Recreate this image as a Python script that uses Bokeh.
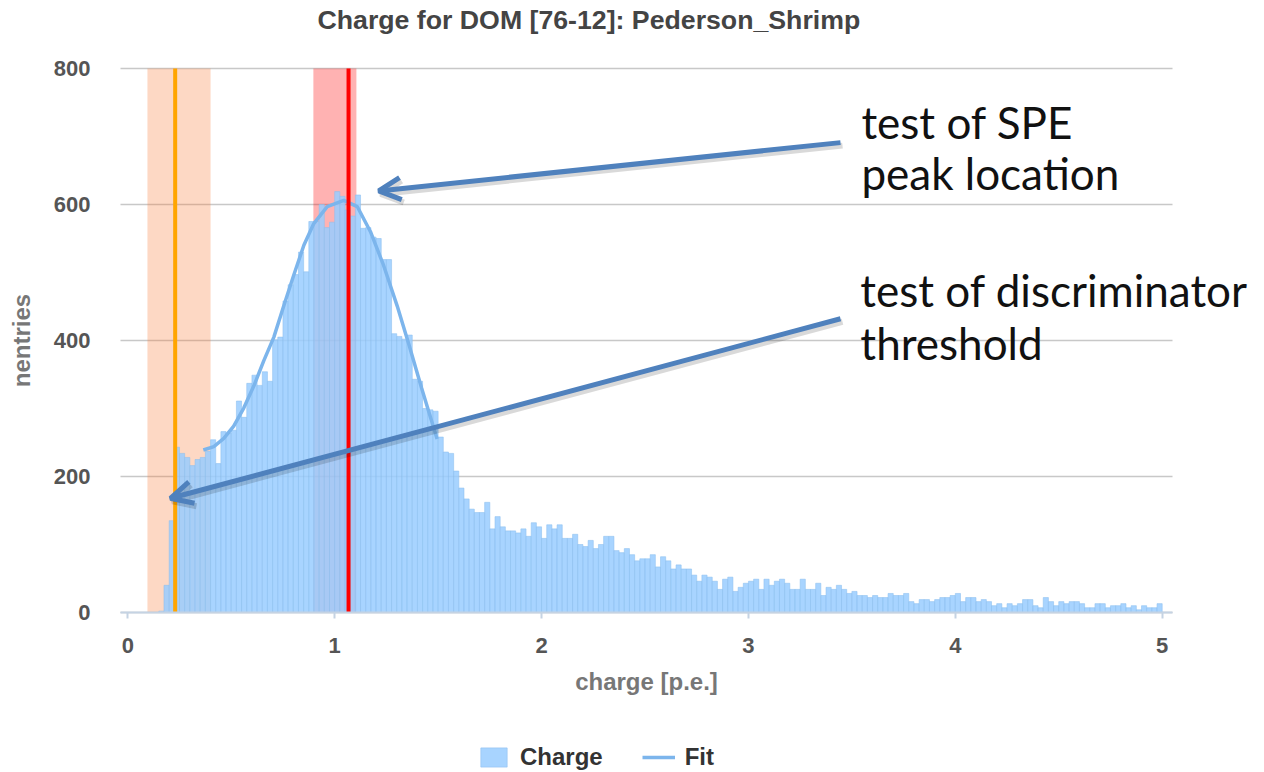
from bokeh.plotting import figure
from bokeh.models import (Range1d, FixedTicker, Legend, LegendItem, Arrow, OpenHead,
                          Label)
from bokeh.embed import file_html
from bokeh.resources import INLINE

# ---------------- data ----------------
BIN_WIDTH = 0.025
CHARGE_COUNTS = [
    0, 0, 0, 0, 0, 0, 2, 40, 135, 243,
    234, 228, 216, 225, 228, 237, 254, 219, 266, 264,
    268, 311, 287, 337, 349, 334, 354, 340, 401, 405,
    458, 482, 497, 530, 501, 575, 575, 600, 566, 574,
    619, 612, 592, 583, 614, 565, 566, 552, 550, 519,
    519, 410, 406, 402, 408, 343, 340, 300, 298, 296,
    258, 236, 234, 208, 183, 167, 152, 147, 147, 162,
    123, 141, 126, 120, 120, 117, 123, 112, 132, 126,
    109, 129, 123, 129, 109, 109, 115, 100, 97, 106,
    94, 100, 112, 112, 91, 88, 94, 85, 76, 79,
    79, 85, 67, 82, 76, 64, 70, 64, 64, 55,
    46, 55, 52, 46, 34, 49, 52, 31, 37, 43,
    46, 49, 34, 49, 40, 46, 49, 43, 34, 34,
    49, 34, 34, 43, 25, 37, 34, 40, 34, 28,
    31, 25, 25, 22, 25, 22, 22, 28, 25, 25,
    28, 16, 13, 19, 19, 16, 19, 22, 22, 25,
    28, 16, 22, 22, 16, 19, 16, 10, 13, 7,
    13, 10, 13, 19, 19, 10, 7, 22, 16, 10,
    16, 13, 16, 16, 13, 7, 7, 13, 13, 7,
    10, 10, 13, 7, 10, 4, 10, 7, 7, 13,
]
FIT_X = [0.365, 0.416, 0.464, 0.512, 0.561, 0.609, 0.657, 0.706, 0.754, 0.802,
         0.851, 0.899, 0.964, 1.044, 1.109, 1.173, 1.237, 1.302, 1.358, 1.420, 1.495]
FIT_Y = [239, 244, 256, 274, 301, 333, 370, 405, 451, 496,
         540, 572, 597, 606, 597, 560, 510, 451, 395, 330, 255]

THRESHOLD = 0.229
THRESHOLD_BAND = (0.095, 0.400)
SPE_PEAK = 1.067
SPE_BAND = (0.897, 1.105)

X_TICKS = [0, 1, 2, 3, 4, 5]
Y_TICKS = [0, 200, 400, 600, 800]
Y_MAX = 800
X_START = -0.0353      # left end of axis / grid
X_AXIS_END = 5.0498    # right end of axis / grid

TITLE = "Charge for DOM [76-12]: Pederson_Shrimp"
X_LABEL = "charge [p.e.]"
Y_LABEL = "nentries"

# annotation arrows: (x_start, y_start, x_end, y_end) in data units
ARROW_SPE = (3.445, 691, 1.213, 620)
ARROW_DISC = (3.445, 432, 0.206, 168)
NOTE_SPE = [("test of SPE", 3.546, 721), ("peak location", 3.546, 647)]
NOTE_DISC = [("test of discriminator", 3.541, 475), ("threshold", 3.541, 397)]

# ---------------- layout (pixels) ----------------
W, H = 1264, 772
TITLE_H = 36            # title strip on top
X_ZERO_PX = 127.3       # where charge = 0 sits
PX_PER_X = 206.88       # pixels per p.e.
AXIS_Y_PX = 612         # where nentries = 0 sits
PX_PER_Y = 0.68         # pixels per entry

x_view = Range1d(-X_ZERO_PX / PX_PER_X, (W - X_ZERO_PX) / PX_PER_X)
y_view = Range1d((AXIS_Y_PX - H) / PX_PER_Y, (AXIS_Y_PX - TITLE_H) / PX_PER_Y)

p = figure(width=W, height=H, output_backend="svg", toolbar_location=None,
           x_range=x_view, y_range=y_view,
           min_border_left=0, min_border_right=0, min_border_top=TITLE_H,
           min_border_bottom=0)
p.outline_line_color = None
p.background_fill_color = "white"
p.border_fill_color = "white"

p.title.text = TITLE
p.title.text_font = "Liberation Sans"
p.title.text_font_style = "bold"
p.title.text_font_size = "26.7px"
p.title.text_color = "#444444"
p.title.align = "left"
p.title.offset = 317
p.title.vertical_align = "middle"
p.title.standoff = 2

# grid: horizontal lines only, spanning the axis
p.xgrid.visible = False
p.ygrid.visible = False
p.segment(x0=[X_START] * len(Y_TICKS), y0=Y_TICKS, x1=[X_AXIS_END] * len(Y_TICKS), y1=Y_TICKS,
          line_color="#c8c8c8", line_width=1.5, level="underlay")

# axes
xa = p.xaxis[0]
xa.fixed_location = 0
xa.bounds = (X_START, X_AXIS_END)
xa.ticker = FixedTicker(ticks=X_TICKS)
xa.axis_line_color = "#c5d3e3"
xa.axis_line_width = 2
xa.major_tick_line_color = "#c5d3e3"
xa.major_tick_line_width = 2
xa.major_tick_out = 6
xa.major_tick_in = 0
xa.minor_tick_line_color = None
xa.major_label_text_font = "Liberation Sans"
xa.major_label_text_font_style = "bold"
xa.major_label_text_font_size = "22px"
xa.major_label_text_color = "#555555"
xa.major_label_standoff = 19
xa.axis_label = X_LABEL
xa.axis_label_text_font = "Liberation Sans"
xa.axis_label_text_font_style = "bold"
xa.axis_label_text_font_size = "24px"
xa.axis_label_text_color = "#777777"
xa.axis_label_standoff = 12

ya = p.yaxis[0]
ya.fixed_location = X_START
ya.bounds = (0, Y_MAX)
ya.ticker = FixedTicker(ticks=Y_TICKS)
ya.axis_line_color = None
ya.major_tick_line_color = None
ya.minor_tick_line_color = None
ya.major_label_text_font = "Liberation Sans"
ya.major_label_text_font_style = "bold"
ya.major_label_text_font_size = "22px"
ya.major_label_text_color = "#555555"
ya.major_label_standoff = 24
ya.axis_label = Y_LABEL
ya.axis_label_text_font = "Liberation Sans"
ya.axis_label_text_font_style = "bold"
ya.axis_label_text_font_size = "24px"
ya.axis_label_text_color = "#777777"
ya.axis_label_standoff = 16

# bands (behind bars)
p.quad(left=[THRESHOLD_BAND[0]], right=[THRESHOLD_BAND[1]], bottom=[0], top=[Y_MAX],
       fill_color="#f87d3a", fill_alpha=0.3, line_color=None)
p.quad(left=[SPE_BAND[0]], right=[SPE_BAND[1]], bottom=[0], top=[Y_MAX],
       fill_color="#ff0000", fill_alpha=0.3, line_color=None)

# histogram
lefts = [k * BIN_WIDTH for k in range(len(CHARGE_COUNTS))]
rights = [l + BIN_WIDTH for l in lefts]
bars = p.quad(left=lefts, right=rights, bottom=0, top=CHARGE_COUNTS,
              fill_color="#99ccff", fill_alpha=0.85,
              line_color="#8cbfee", line_alpha=0.55, line_width=1)

# fit
fit = p.line(FIT_X, FIT_Y, line_color="#7cb5ec", line_width=3.5)

# markers
p.segment(x0=[THRESHOLD], y0=[0], x1=[THRESHOLD], y1=[Y_MAX], line_color="#ffa500", line_width=4)
p.segment(x0=[SPE_PEAK], y0=[0], x1=[SPE_PEAK], y1=[Y_MAX], line_color="#ff0000", line_width=4)

# legend at the bottom
legend = Legend(items=[LegendItem(label="Charge", renderers=[bars]),
                       LegendItem(label="Fit", renderers=[fit])],
                orientation="horizontal", location=(477, 1),
                margin=0, padding=0, spacing=39, glyph_width=33, glyph_height=24,
                label_standoff=10, label_height=24,
                label_text_font="Liberation Sans", label_text_font_style="bold",
                label_text_font_size="24px", label_text_color="#333333",
                background_fill_alpha=0, border_line_color=None)
p.add_layout(legend, "center")

# annotation arrows with soft shadow
ARROW_COLOR = "#4f81bd"
dx_px, dy_px = 2, 3
sx = 1.0 / PX_PER_X
sy = 1.0 / PX_PER_Y
for (x0, y0, x1, y1) in (ARROW_SPE, ARROW_DISC):
    p.add_layout(Arrow(end=OpenHead(size=22, line_width=6, line_color="#000000", line_alpha=0.15),
                       x_start=x0 + dx_px * sx, y_start=y0 - dy_px * sy,
                       x_end=x1 + dx_px * sx, y_end=y1 - dy_px * sy,
                       line_width=6, line_color="#000000", line_alpha=0.15))
    p.add_layout(Arrow(end=OpenHead(size=22, line_width=5, line_color=ARROW_COLOR),
                       x_start=x0, y_start=y0, x_end=x1, y_end=y1,
                       line_width=5, line_color=ARROW_COLOR))

for text, x, y in NOTE_SPE + NOTE_DISC:
    p.add_layout(Label(x=x, y=y, text=text, text_font="Lato", text_font_size="44px",
                       text_color="#111111", text_baseline="alphabetic", text_align="left"))

open("out.html", "w").write(file_html(p, INLINE))
